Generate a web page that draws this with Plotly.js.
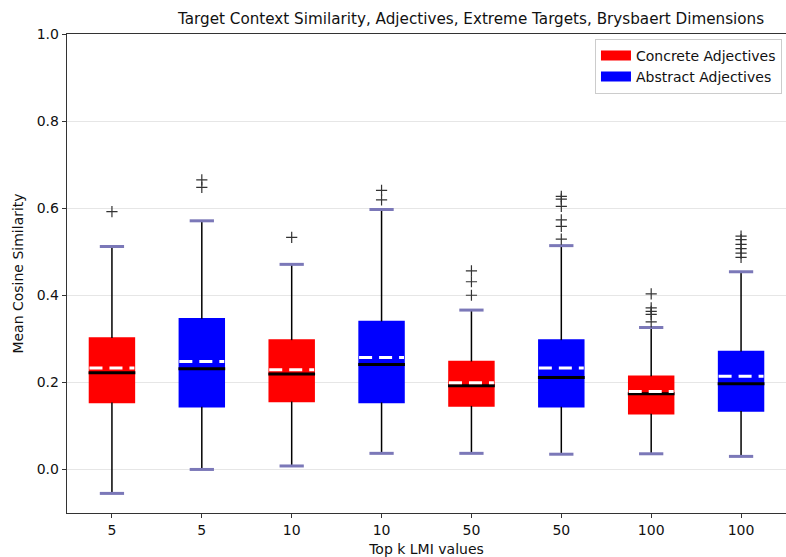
<!DOCTYPE html>
<html>
<head>
<meta charset="utf-8">
<script src="https://cdn.plot.ly/plotly-3.0.1.min.js"></script>
<style>html,body{margin:0;padding:0;background:#fff;}#chart{width:786px;height:557px;}</style>
</head>
<body>
<div id="chart"></div>
<script>
// ---- data ----
var tickLabels = ['5', '5', '10', '10', '50', '50', '100', '100'];
var groups = ['Concrete Adjectives', 'Abstract Adjectives', 'Concrete Adjectives', 'Abstract Adjectives',
              'Concrete Adjectives', 'Abstract Adjectives', 'Concrete Adjectives', 'Abstract Adjectives'];
var q1 = [0.154, 0.144, 0.156, 0.154, 0.146, 0.144, 0.128, 0.134];
var median = [0.222, 0.231, 0.219, 0.241, 0.192, 0.211, 0.174, 0.197];
var q3 = [0.302, 0.346, 0.297, 0.340, 0.248, 0.297, 0.214, 0.271];
var mean = [0.233, 0.248, 0.229, 0.257, 0.199, 0.233, 0.179, 0.214];
var lowerWhisker = [-0.055, 0.000, 0.008, 0.037, 0.037, 0.035, 0.036, 0.030];
var upperWhisker = [0.512, 0.571, 0.471, 0.597, 0.366, 0.514, 0.326, 0.454];
var outliers = [
  [0.592],
  [0.665, 0.648],
  [0.533],
  [0.641, 0.619],
  [0.456, 0.431, 0.400],
  [0.627, 0.621, 0.604, 0.573, 0.558, 0.529],
  [0.403, 0.371, 0.363, 0.356, 0.339],
  [0.536, 0.528, 0.517, 0.507, 0.497, 0.487]
];
var groupColors = {'Concrete Adjectives': '#ff0000', 'Abstract Adjectives': '#0000ff'};
var legendOrder = ['Concrete Adjectives', 'Abstract Adjectives'];

// ---- styling ----
var boxWidth = 0.5, capHalf = 0.135, boxHalf = 0.26;
var capColor = '#7b78b8';
var positions = tickLabels.map(function (_, i) { return i + 1; });

var traces = [];

// boxes (bars from q1 to q3)
legendOrder.forEach(function (g) {
  var xs = [], base = [], h = [];
  positions.forEach(function (p, i) {
    if (groups[i] === g) { xs.push(p); base.push(q1[i]); h.push(q3[i] - q1[i]); }
  });
  traces.push({
    type: 'bar', x: xs, y: h, base: base, width: boxWidth,
    marker: {color: groupColors[g], line: {color: groupColors[g], width: 1.5}},
    showlegend: false, hoverinfo: 'skip'
  });
});

// whiskers
var wx = [], wy = [];
positions.forEach(function (p, i) {
  wx.push(p, p, null, p, p, null);
  wy.push(q3[i], upperWhisker[i], null, q1[i], lowerWhisker[i], null);
});
traces.push({type: 'scatter', mode: 'lines', x: wx, y: wy,
  line: {color: '#000000', width: 1.5}, showlegend: false, hoverinfo: 'skip'});

// caps
var cx = [], cy = [];
positions.forEach(function (p, i) {
  cx.push(p - capHalf, p + capHalf, null, p - capHalf, p + capHalf, null);
  cy.push(upperWhisker[i], upperWhisker[i], null, lowerWhisker[i], lowerWhisker[i], null);
});
traces.push({type: 'scatter', mode: 'lines', x: cx, y: cy,
  line: {color: capColor, width: 3}, showlegend: false, hoverinfo: 'skip'});

// medians
var mx = [], my = [];
positions.forEach(function (p, i) {
  mx.push(p - boxHalf, p + boxHalf, null);
  my.push(median[i], median[i], null);
});
traces.push({type: 'scatter', mode: 'lines', x: mx, y: my,
  line: {color: '#000000', width: 3}, showlegend: false, hoverinfo: 'skip'});

// means (dashed white)
positions.forEach(function (p, i) {
  traces.push({type: 'scatter', mode: 'lines', x: [p - boxHalf + 0.01, p + boxHalf - 0.01], y: [mean[i], mean[i]],
    line: {color: '#ffffff', width: 3, dash: '13px,7px'}, showlegend: false, hoverinfo: 'skip'});
});

// outliers
var ox = [], oy = [];
positions.forEach(function (p, i) {
  outliers[i].forEach(function (v) { ox.push(p); oy.push(v); });
});
traces.push({type: 'scatter', mode: 'markers', x: ox, y: oy,
  marker: {symbol: 'cross-thin', size: 8, line: {color: '#333333', width: 1.2}},
  showlegend: false, hoverinfo: 'skip'});

// legend entries
legendOrder.forEach(function (g) {
  traces.push({type: 'scatter', mode: 'lines', x: [null], y: [null], name: g,
    line: {color: groupColors[g], width: 10}, showlegend: true});
});

var font = 'DejaVu Sans, Liberation Sans, sans-serif';
var layout = {
  width: 786, height: 557,
  margin: {l: 67, r: 0, t: 34, b: 44, pad: 0},
  paper_bgcolor: '#ffffff', plot_bgcolor: '#ffffff',
  font: {family: font, size: 14, color: '#111111'},
  title: {text: 'Target Context Similarity, Adjectives, Extreme Targets, Brysbaert Dimensions',
    font: {family: font, size: 15.2, color: '#111111'},
    x: 0.562, xref: 'paper', xanchor: 'center', y: 0.966, yref: 'container', yanchor: 'middle'},
  xaxis: {
    range: [0.5, 8.5], tickmode: 'array', tickvals: positions, ticktext: tickLabels,
    showgrid: false, zeroline: false, showline: true, mirror: true, linecolor: '#333333', linewidth: 1.3,
    ticks: 'outside', ticklen: 4, tickcolor: '#333333', tickfont: {size: 14},
    title: {text: 'Top k LMI values', font: {size: 14}, standoff: 8}
  },
  yaxis: {
    range: [-0.1, 1.0], tick0: 0, dtick: 0.2, tickformat: '.1f',
    showgrid: true, gridcolor: '#e6e6e6', gridwidth: 1, zeroline: false,
    showline: true, mirror: false, linecolor: '#333333', linewidth: 1.3,
    ticks: 'outside', ticklen: 4, tickcolor: '#333333', tickfont: {size: 14},
    title: {text: 'Mean Cosine Similarity', font: {size: 14}, standoff: 9}
  },
  showlegend: true,
  legend: {x: 0.9944, xanchor: 'right', y: 0.99, yanchor: 'top',
    bgcolor: 'rgba(255,255,255,0.8)', bordercolor: '#cccccc', borderwidth: 1,
    font: {size: 14}, tracegroupgap: 0, entrywidth: 150, entrywidthmode: 'pixels'},
  bargap: 0
};

Plotly.newPlot('chart', traces, layout, {displayModeBar: false, staticPlot: true});
</script>
</body>
</html>
